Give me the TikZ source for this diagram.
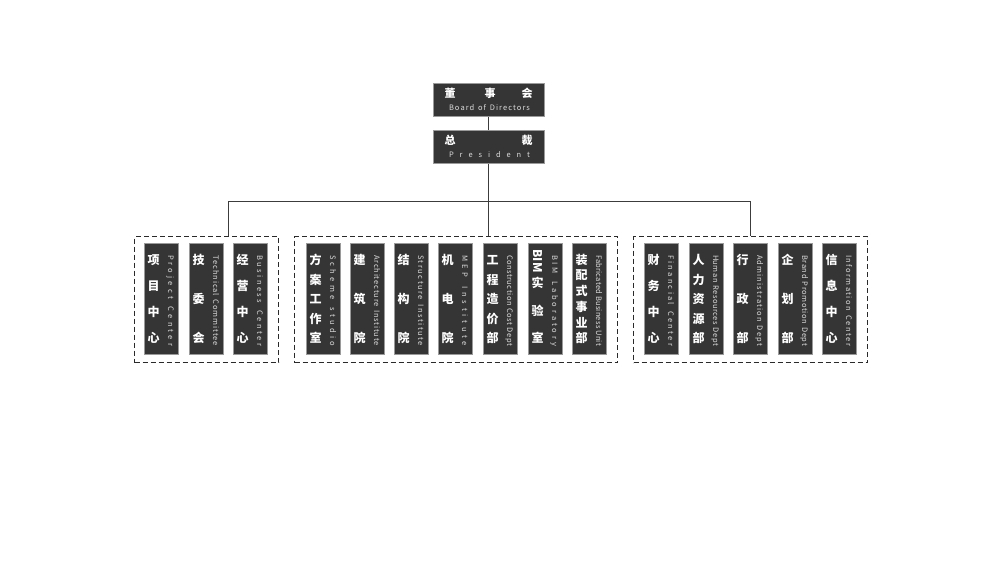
\documentclass[tikz,border=0pt]{standalone}
\usepackage{fontspec}
\newfontfamily\cjk{Noto Sans CJK SC}
\usetikzlibrary{calc,decorations.text}
\definecolor{boxfill}{HTML}{353535}
\definecolor{boxline}{HTML}{9A9A9A}
\definecolor{linkgray}{HTML}{3C3C3C}
\definecolor{dashgray}{HTML}{2A2A2A}
\definecolor{enggray}{HTML}{DCDCDC}
\newcommand\engfont{\cjk\fontsize{7.5}{8}\selectfont\color{enggray}}
\tikzset{
  topbox/.style={fill=boxfill,draw=boxline,line width=0.7pt,minimum width=111pt,minimum height=33pt,inner sep=0pt},
  colbox/.style={fill=boxfill,draw=boxline,line width=0.7pt,minimum width=34pt,minimum height=111pt,inner sep=0pt,anchor=north west},
  groupbox/.style={draw=dashgray,line width=1.3pt,dash pattern=on 5pt off 3pt,minimum height=126pt,inner sep=0pt,anchor=north west},
  cjkch/.style={text=white,font=\cjk\bfseries\fontsize{12}{12}\selectfont,inner sep=0pt},
  topch/.style={text=white,font=\cjk\bfseries\fontsize{11}{11}\selectfont,inner sep=0pt},
  link/.style={draw=linkgray,line width=1pt},
  engtext/.style={decorate,decoration={text along path,text align=fit to path,text={|\engfont|#1}}}
}
% #1 name, #2 left x, #3 number of chars, #4 char list, #5 English
\newcommand\orgcol[5]{%
  \node[colbox] (#1) at (#2,243) {};
  \foreach \ch [count=\i] in {#4} {
    \node[cjkch] (#1-\i) at ($(#1.north west)+(9.5,{17+(\i-1)*78/(#3-1)})$) {\ch};
  }
  \coordinate (#1-et) at ($(#1.north west)+(24,12)$);
  \coordinate (#1-eb) at ($(#1.north west)+(24,103)$);
  \path[engtext={#5}] (#1-et) -- (#1-eb);
}
\begin{document}
\begin{tikzpicture}[x=1pt,y=-1pt]
\useasboundingbox (0,0) rectangle (1000,573);
% top boxes
\node[topbox] (board) at (488.5,100) {};
\node[topch] (board-1) at (450,93) {董};
\node[topch] (board-2) at (490,93) {事};
\node[topch] (board-3) at (527,93) {会};
\coordinate (board-el) at (449,110.5);
\coordinate (board-er) at (530,110.5);
\path[engtext={Board of Directors}] (board-el) -- (board-er);

\node[topbox] (pres) at (488.5,147) {};
\node[topch] (pres-1) at (450,140) {总};
\node[topch] (pres-2) at (527,140) {裁};
\coordinate (pres-el) at (449,157.5);
\coordinate (pres-er) at (530,157.5);
\path[engtext={President}] (pres-el) -- (pres-er);

% groups
\node[groupbox,minimum width=144pt] (g1) at (134,236) {};
\node[groupbox,minimum width=323pt] (g2) at (294,236) {};
\node[groupbox,minimum width=234pt] (g3) at (633,236) {};

% connectors
\coordinate (hl) at (228,201);
\coordinate (hr) at (750,201);
\draw[link] (board.south) -- (pres.north);
\draw[link] (pres.south) -- (pres.south |- g2.north);
\draw[link] (hl) -- (hr);
\draw[link] (hl) -- (hl |- g1.north);
\draw[link] (hr) -- (hr |- g3.north);

% group 1
\orgcol{c1}{144}{4}{项,目,中,心}{Project Center}
\orgcol{c2}{189}{3}{技,委,会}{Technical Committee}
\orgcol{c3}{233}{4}{经,营,中,心}{Business Center}
% group 2
\orgcol{c4}{306}{5}{方,案,工,作,室}{Scheme studio}
\orgcol{c5}{350}{3}{建,筑,院}{Architecture Institute}
\orgcol{c6}{394}{3}{结,构,院}{Structure Institute}
\orgcol{c7}{438}{3}{机,电,院}{MEP Institute}
\orgcol{c8}{483}{5}{工,程,造,价,部}{Construction Cost Dept}
% BIM column
\node[colbox] (c9) at (528,243) {};
\node[cjkch,rotate=-90] (c9-1) at ($(c9.north west)+(9.5,18)$) {BIM};
\node[cjkch] (c9-2) at ($(c9.north west)+(9.5,40)$) {实};
\node[cjkch] (c9-3) at ($(c9.north west)+(9.5,67.5)$) {验};
\node[cjkch] (c9-4) at ($(c9.north west)+(9.5,95)$) {室};
\coordinate (c9-et) at ($(c9.north west)+(24,12)$);
\coordinate (c9-eb) at ($(c9.north west)+(24,103)$);
\path[engtext={BIM Laboratory}] (c9-et) -- (c9-eb);
\orgcol{c10}{572}{6}{装,配,式,事,业,部}{Fabricated Business Unit}
% group 3
\orgcol{c11}{644}{4}{财,务,中,心}{Financial Center}
\orgcol{c12}{689}{5}{人,力,资,源,部}{Human Resources Dept}
\orgcol{c13}{733}{3}{行,政,部}{Administration Dept}
\orgcol{c14}{778}{3}{企,划,部}{Brand Promotion Dept}
\orgcol{c15}{822}{4}{信,息,中,心}{Information Center}
\end{tikzpicture}
\end{document}
